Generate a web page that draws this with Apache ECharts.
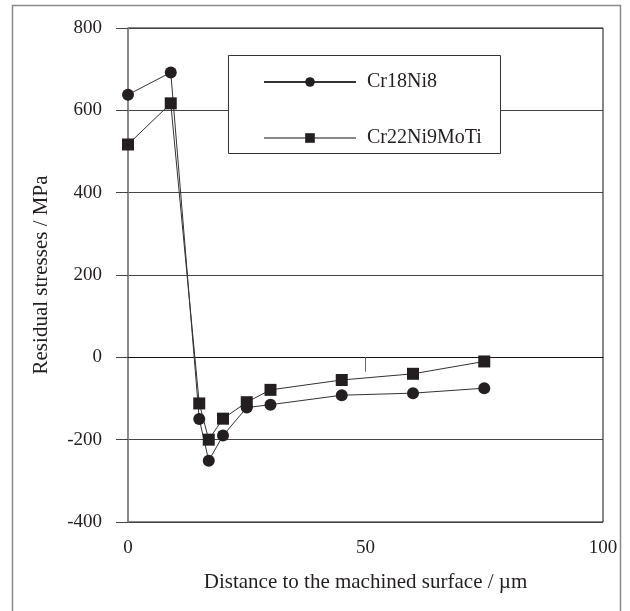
<!DOCTYPE html>
<html>
<head>
<meta charset="utf-8">
<script src="https://cdn.jsdelivr.net/npm/echarts@6/dist/echarts.min.js"></script>
<style>html,body{margin:0;padding:0;background:#fff}#c{width:630px;height:611px}</style>
</head>
<body>
<div id="c"></div>
<script>
const xValues = [0, 9, 15, 17, 20, 25, 30, 45, 60, 75];
const cr18ni8 = [638, 692, -150, -251, -190, -122, -115, -92, -87, -75];
const cr22ni9moti = [517, 617, -112, -200, -149, -109, -79, -55, -40, -10];
const seriesNames = ['Cr18Ni8', 'Cr22Ni9MoTi'];
const xTicks = [0, 50, 100];
const yTicks = [-400, -200, 0, 200, 400, 600, 800];

const font = 'Liberation Serif';
const ink = '#231f20';
const chart = echarts.init(document.getElementById('c'));
chart.setOption({
  animation: false,
  backgroundColor: '#fff',
  grid: { left: 128, right: 27, top: 28, bottom: 89, show: true, borderColor: '#111', borderWidth: 1 },
  graphic: [
    { type: 'rect', shape: { x: 12.5, y: 5.5, width: 608, height: 640 }, style: { fill: 'none', stroke: '#8a8a8a', lineWidth: 1.5 }, z: 0 },
    { type: 'rect', shape: { x: 228.5, y: 55.5, width: 272, height: 98 }, style: { fill: '#fff', stroke: '#333', lineWidth: 1 }, z: 5 }
  ],
  legend: {
    orient: 'vertical', left: 258, top: 67, itemWidth: 92, itemHeight: 12, itemGap: 36, z: 10,
    textStyle: { fontFamily: font, fontSize: 20, color: ink, padding: [0, 0, 0, 6] },
    data: [
      { name: seriesNames[0] },
      { name: seriesNames[1], lineStyle: { color: '#888' } }
    ]
  },
  xAxis: {
    type: 'value', min: xTicks[0], max: xTicks[xTicks.length - 1], interval: 50,
    name: 'Distance to the machined surface / µm', nameLocation: 'middle', nameGap: 50,
    nameTextStyle: { fontFamily: font, fontSize: 21, color: ink },
    axisLine: { show: true, lineStyle: { color: '#111' } },
    axisTick: { show: false },
    splitLine: { show: false },
    axisLabel: { fontFamily: font, fontSize: 19, color: ink, margin: 17 }
  },
  yAxis: {
    type: 'value', min: yTicks[0], max: yTicks[yTicks.length - 1], interval: 200,
    name: 'Residual stresses / MPa', nameLocation: 'middle', nameGap: 76, nameRotate: 90,
    nameTextStyle: { fontFamily: font, fontSize: 21, color: ink },
    axisLine: { show: true, lineStyle: { color: '#8a8a8a', width: 1.5 } },
    axisTick: { show: true, inside: false, length: 12, lineStyle: { color: '#444' } },
    splitLine: { show: true, lineStyle: { color: '#444', width: 1 } },
    axisLabel: { fontFamily: font, fontSize: 19, color: ink, margin: 26 }
  },
  series: [
    {
      name: seriesNames[0], type: 'line', symbol: 'circle', symbolSize: 12, z: 3,
      data: xValues.map((x, i) => [x, cr18ni8[i]]),
      itemStyle: { color: ink }, lineStyle: { color: '#333', width: 1 }
    },
    {
      name: seriesNames[1], type: 'line', symbol: 'rect', symbolSize: 12, z: 3,
      data: xValues.map((x, i) => [x, cr22ni9moti[i]]),
      itemStyle: { color: ink }, lineStyle: { color: '#333', width: 1 },
      markLine: {
        silent: true, symbol: 'none', label: { show: false },
        lineStyle: { color: '#666', width: 1, type: 'solid' },
        data: [[{ coord: [50, 0] }, { coord: [50, -35] }]]
      }
    }
  ]
});
</script>
</body>
</html>
